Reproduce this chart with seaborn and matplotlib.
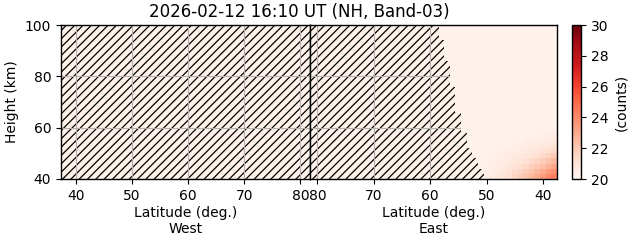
import numpy as np
import matplotlib
matplotlib.use("Agg")
import matplotlib.pyplot as plt
from matplotlib.patches import Rectangle
import seaborn as sns

# ---------------- data ----------------
title = "2026-02-12 16:10 UT (NH, Band-03)"
side_labels = ["West", "East"]
lat_ticks = [40, 50, 60, 70, 80]
height_ticks = [40, 60, 80, 100]
cbar_ticks = [20, 22, 24, 26, 28, 30]
vmin, vmax = 20, 30

# East-side grid: latitude cell edges (deg) and height cell edges (km)
lat_edges = np.arange(37.5, 82.5, 1.0)
height_edges = np.arange(40, 101, 2)

# last valid latitude edge (beyond it: no data, hatched) per 2-km height row, bottom->top
valid_lat_limit = [50.5, 50.5, 51.5, 51.5, 52.5, 52.5, 53.5, 53.5, 53.5,
                   54.5, 54.5, 54.5, 54.5, 55.5, 55.5, 55.5, 55.5, 55.5,
                   56.5, 56.5, 56.5, 56.5, 56.5, 57.5, 57.5, 57.5, 57.5,
                   58.5, 58.5, 58.5]

background_counts = 20.2
# enhanced counts near the low-latitude / low-height corner:
# rows = heights 41..59 km (2-km rows), cols = latitude 38..50 deg
corner_counts = [
    [24.4, 24.0, 23.5, 23.0, 22.6, 22.2, 21.9, 21.6, 21.3, 21.0, 20.8, 20.6, 20.4],
    [23.8, 23.4, 23.0, 22.6, 22.2, 21.9, 21.6, 21.4, 21.1, 20.9, 20.7, 20.5, 20.4],
    [23.1, 22.8, 22.4, 22.1, 21.8, 21.5, 21.3, 21.1, 20.9, 20.7, 20.6, 20.4, 20.3],
    [22.5, 22.2, 21.9, 21.7, 21.4, 21.2, 21.0, 20.9, 20.7, 20.6, 20.5, 20.4, 20.3],
    [21.9, 21.7, 21.5, 21.3, 21.1, 20.9, 20.8, 20.7, 20.6, 20.5, 20.4, 20.3, 20.3],
    [21.4, 21.3, 21.1, 20.9, 20.8, 20.7, 20.6, 20.5, 20.4, 20.4, 20.3, 20.3, 20.2],
    [21.0, 20.9, 20.8, 20.7, 20.6, 20.5, 20.4, 20.4, 20.3, 20.3, 20.3, 20.2, 20.2],
    [20.7, 20.6, 20.5, 20.5, 20.4, 20.4, 20.3, 20.3, 20.3, 20.2, 20.2, 20.2, 20.2],
    [20.5, 20.4, 20.4, 20.3, 20.3, 20.3, 20.2, 20.2, 20.2, 20.2, 20.2, 20.2, 20.2],
    [20.3, 20.3, 20.3, 20.2, 20.2, 20.2, 20.2, 20.2, 20.2, 20.2, 20.2, 20.2, 20.2],
]

# ---------------- build field ----------------
lat_centers = 0.5 * (lat_edges[:-1] + lat_edges[1:])
nrow, ncol = len(height_edges) - 1, len(lat_centers)
Z = np.full((nrow, ncol), background_counts)
cc = np.array(corner_counts)
Z[:cc.shape[0], :cc.shape[1]] = cc
for i, lim in enumerate(valid_lat_limit):
    Z[i, lat_centers > lim] = np.nan

# ---------------- plot ----------------
sns.set_style("ticks")
plt.rcParams["font.family"] = ["DejaVu Sans"]
for k in ["text.color", "axes.labelcolor", "xtick.color", "ytick.color", "axes.edgecolor"]:
    plt.rcParams[k] = "black"
plt.rcParams["hatch.linewidth"] = 0.9
cmap = sns.color_palette("Reds", as_cmap=True)
bg_color = cmap((background_counts - vmin) / (vmax - vmin))

W, H = 631, 243
fig = plt.figure(figsize=(W / 100, H / 100), dpi=100)
top, bot = 25, 179
axW = fig.add_axes([61 / W, 1 - bot / H, 249 / W, (bot - top) / H])
axE = fig.add_axes([310 / W, 1 - bot / H, 247 / W, (bot - top) / H])
cax = fig.add_axes([572 / W, 1 - bot / H, 9 / W, (bot - top) / H])

mesh = None
for ax, side in zip([axW, axE], side_labels):
    ax.add_patch(Rectangle((0, 0), 1, 1, transform=ax.transAxes,
                           facecolor=bg_color, edgecolor="black", lw=0,
                           hatch="////", zorder=0))
    if side == "East":
        mesh = ax.pcolormesh(lat_edges, height_edges, np.ma.masked_invalid(Z),
                             cmap=cmap, vmin=vmin, vmax=vmax, zorder=1)
        ax.set_xlim(81.3, 37.5)
        ax.tick_params(axis="y", left=False, labelleft=False)
    else:
        ax.set_xlim(37.35, 81.7)
        ax.set_ylabel("Height (km)")
    ax.set_ylim(40, 100)
    ax.set_xticks(lat_ticks)
    ax.set_yticks(height_ticks)
    ax.grid(True, color="#b0b0b0", lw=0.8)
    ax.set_xlabel(f"Latitude (deg.)\n{side}", labelpad=2)
    for s in ax.spines.values():
        s.set_visible(True)
        s.set_linewidth(1.0)
        s.set_color("black")
    ax.tick_params(direction="out", length=3.5, width=0.8, labelsize=10, colors="black")

cb = fig.colorbar(mesh, cax=cax, ticks=cbar_ticks)
cb.set_label("(counts)")
cb.outline.set_linewidth(1.0)
cax.tick_params(length=3.5, width=0.8, labelsize=10)

fig.text(299 / W, 1 - 12 / H, title, ha="center", va="center", fontsize=12)

fig.savefig("out.png", dpi=100)
